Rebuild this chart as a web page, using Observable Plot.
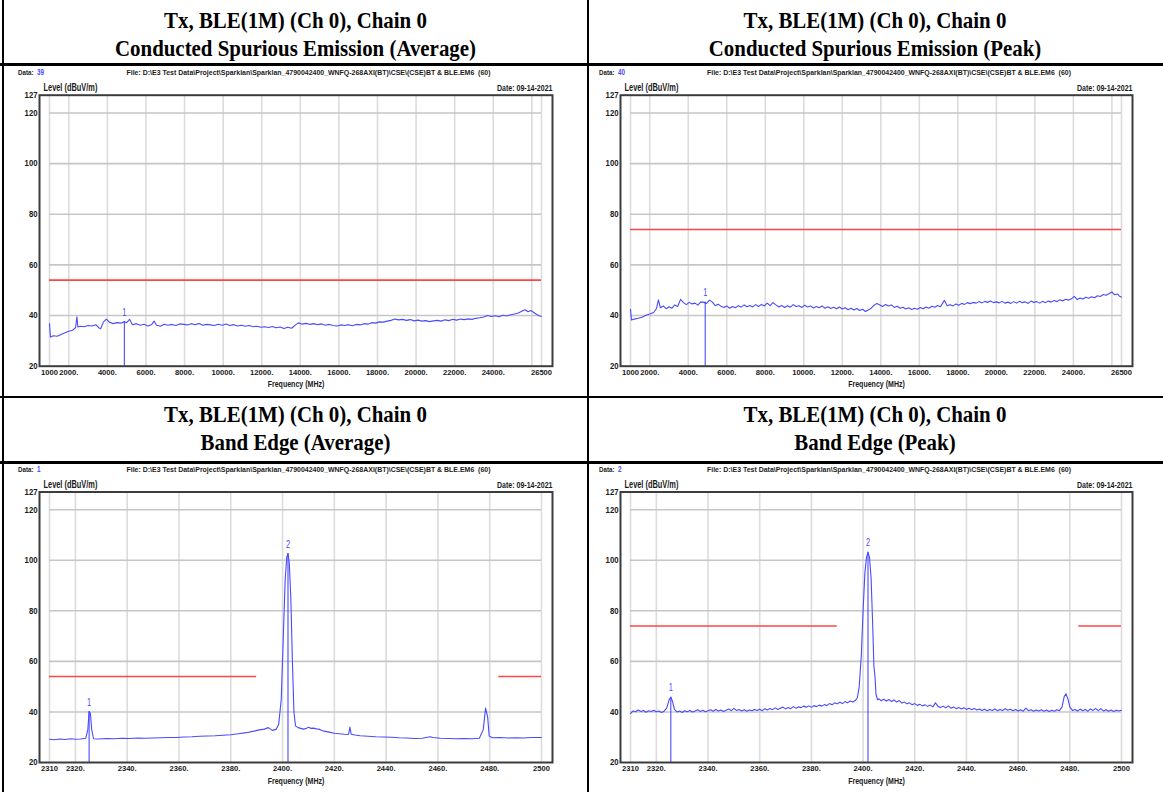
<!DOCTYPE html>
<html><head><meta charset="utf-8">
<script src="https://cdn.jsdelivr.net/npm/d3@7"></script>
<script src="https://cdn.jsdelivr.net/npm/@observablehq/plot@0.6"></script>
<style>
body{margin:0;background:#fff;}
#page{position:relative;width:1163px;height:792px;overflow:hidden;background:#fff;}
.title{position:absolute;font-family:"Liberation Serif","Times New Roman",serif;font-weight:bold;font-size:24px;line-height:28px;text-align:center;color:#000;}
.title div{white-space:nowrap;transform:scaleX(0.87);}
.cell{position:absolute;}
.cell svg{overflow:visible;}
.bl{position:absolute;background:#000;}
</style></head><body><div id="page"></div>
<script>
// ---------- text ----------
const titleLine1 = "Tx, BLE(1M) (Ch 0), Chain 0";
const titleLine2 = ["Conducted Spurious Emission (Average)", "Conducted Spurious Emission (Peak)", "Band Edge (Average)", "Band Edge (Peak)"];
const dataNumbers = ["39", "40", "1", "2"];
const fileText = "File: D:\\E3 Test Data\\Project\\Sparklan\\Sparklan_4790042400_WNFQ-268AXI(BT)\\CSE\\(CSE)BT & BLE.EM6  (60)";
const dateText = "Date: 09-14-2021";
const yLabel = "Level (dBuV/m)";
const xLabel = "Frequency (MHz)";

// ---------- axes ----------
const yTicks = [20, 40, 60, 80, 100, 120, 127];
const yGrid = [40, 60, 80, 100, 120];
const cseTicks = [1000, 2000, 4000, 6000, 8000, 10000, 12000, 14000, 16000, 18000, 20000, 22000, 24000, 26500];
const cseGrid = [1000, 2000, 4000, 6000, 8000, 10000, 12000, 14000, 16000, 18000, 20000, 22000, 24000, 26000, 26500];
const beTicks = [2310, 2320, 2340, 2360, 2380, 2400, 2420, 2440, 2460, 2480, 2500];
const cseRange = [1000, 26500];
const beRange = [2310, 2500];

// ---------- limit lines [from, to, level] ----------
const limitsCseAvg = [[1000, 26500, 54]];
const limitsCsePeak = [[1000, 26500, 74]];
const limitsBeAvg = [[2310, 2390, 54], [2483.5, 2500, 54]];
const limitsBePeak = [[2310, 2390, 74], [2483.5, 2500, 74]];

// ---------- markers [freq, level, label] ----------
const markersCseAvg = [[4880, 37.6, "1"]];
const markersCsePeak = [[4880, 45.3, "1"]];
const markersBeAvg = [[2325.3, 40.2, "1"], [2402.1, 102.7, "2"]];
const markersBePeak = [[2325.6, 45.8, "1"], [2401.9, 103.2, "2"]];

// ---------- traces [freq MHz, level dBuV/m] ----------
const traceCseAvg = [[1000,36.8],[1050,31.5],[1200,32],[1400,31.8],[1600,32.5],[1800,33.2],[2000,33.8],[2200,34.2],[2350,35.2],[2420,39.5],[2470,35.5],[2600,35.8],[2800,35.6],[3000,36.1],[3200,35.9],[3400,36.4],[3550,35.2],[3650,34.8],[3800,37.5],[3950,38.6],[4100,37.4],[4300,36.8],[4500,37.2],[4700,37],[4880,37.6],[5000,37.2],[5150,38.5],[5300,36.4],[5500,36.8],[5700,36.2],[5900,36.6],[6100,35.9],[6300,36.5],[6420,37.8],[6550,36.2],[6750,35.8],[6950,36.6],[7150,36.2],[7350,36.5],[7550,36.1],[7750,36.7],[7950,36.5],[8150,36.3],[8350,36.8],[8550,36.4],[8750,36.9],[8950,36.2],[9150,36.5],[9350,36.3],[9550,36.1],[9750,36.6],[9950,36.2],[10150,36.7],[10350,36.1],[10550,36.4],[10750,35.9],[10950,36.2],[11150,35.8],[11350,36.1],[11550,35.6],[11750,35.8],[11950,35.4],[12150,35.6],[12350,35.3],[12550,35.7],[12750,35.2],[12950,35.5],[13150,34.9],[13350,35.4],[13550,35],[13750,36.3],[13900,37.1],[14100,36.6],[14300,36.9],[14500,36.5],[14700,36.8],[14900,36.4],[15100,36.7],[15300,36.2],[15500,36.5],[15700,36.1],[15900,35.9],[16100,36.3],[16300,36.1],[16500,36.4],[16700,36],[16900,36.5],[17100,36.3],[17300,36.8],[17500,36.6],[17700,37.2],[17900,37],[18100,37.5],[18300,37.4],[18500,37.8],[18700,38.1],[18900,38.6],[19100,38.3],[19300,38.5],[19500,38.1],[19700,38.4],[19900,37.9],[20100,38.2],[20300,37.8],[20500,38],[20700,37.6],[20900,37.9],[21100,38.1],[21300,37.8],[21500,38.3],[21700,38],[21900,38.5],[22100,38.2],[22300,38.6],[22500,38.4],[22700,38.7],[22900,38.5],[23100,38.9],[23300,39.1],[23500,39.4],[23700,40],[23900,39.6],[24100,39.9],[24300,39.5],[24500,40.1],[24700,39.8],[24900,40.3],[25100,40.6],[25300,41],[25500,41.8],[25650,42.3],[25800,41.5],[25950,42],[26100,41.2],[26250,40.4],[26400,39.8],[26500,39.7]];

const traceCsePeak = [[1000,42.5],[1050,38.3],[1200,38.6],[1400,38.9],[1600,39.3],[1800,40.1],[2000,40.6],[2200,41.2],[2350,42.8],[2450,46.2],[2550,43.1],[2700,43.8],[2850,42.7],[3000,43.5],[3150,42.9],[3300,44.2],[3450,43.6],[3600,46.4],[3750,45.1],[3900,44.3],[4050,45.2],[4200,44.6],[4350,44.9],[4500,44.1],[4650,45.4],[4800,45.2],[4950,44.8],[5100,46.1],[5250,45.3],[5400,43.9],[5550,44.5],[5700,43.7],[5850,43.2],[6000,43.8],[6150,42.9],[6300,43.6],[6450,43.1],[6600,43.9],[6750,43.3],[6900,44.2],[7050,43.5],[7200,44],[7350,43.4],[7500,44.3],[7650,43.6],[7800,44.4],[7950,43.8],[8100,44.9],[8250,43.9],[8400,45.1],[8550,44.2],[8700,43.4],[8850,44],[9000,43.2],[9150,43.9],[9300,43.3],[9450,44.3],[9600,43.6],[9750,43.9],[9900,43.2],[10050,44.1],[10200,43.4],[10350,43.8],[10500,43],[10650,43.6],[10800,43.1],[10950,43.8],[11100,42.9],[11250,43.5],[11400,42.8],[11550,43.3],[11700,42.7],[11850,43.4],[12000,42.6],[12150,43.1],[12300,42.3],[12450,42.9],[12600,42.2],[12750,42.8],[12900,42],[13050,42.5],[13200,41.6],[13350,42.2],[13500,42.9],[13650,44.1],[13800,44.8],[13950,44.2],[14100,43.6],[14250,44.4],[14400,43.8],[14550,44.2],[14700,43.2],[14850,43.7],[15000,42.9],[15150,43.3],[15300,42.6],[15450,43.1],[15600,42.4],[15750,42.9],[15900,42.5],[16050,43.2],[16200,42.7],[16350,43.4],[16500,42.9],[16650,43.7],[16800,43.3],[16950,44],[17100,43.5],[17300,46],[17450,43.9],[17600,44.3],[17750,43.8],[17900,44.6],[18050,44.1],[18200,44.8],[18350,44.4],[18500,45.1],[18650,44.7],[18800,45.2],[18950,44.9],[19100,45.5],[19250,45],[19400,45.6],[19550,45.2],[19700,45.7],[19850,45.1],[20000,45.4],[20150,45],[20300,45.6],[20450,44.9],[20600,45.3],[20750,44.8],[20900,45.5],[21050,44.9],[21200,45.6],[21350,45.1],[21500,45.4],[21650,44.8],[21800,45.7],[21950,45.2],[22100,45.5],[22250,44.9],[22400,45.6],[22550,45.1],[22700,45.7],[22850,45.3],[23000,45.9],[23150,45.5],[23300,46.2],[23450,45.8],[23600,46.4],[23750,46.1],[23900,46.6],[24050,47.6],[24200,46.3],[24350,46.9],[24500,46.5],[24650,47.2],[24800,46.8],[24950,47.4],[25100,47],[25250,47.8],[25400,47.5],[25550,48.3],[25700,48],[25850,48.6],[26000,49.3],[26150,48.2],[26300,48.5],[26400,47.6],[26500,47.3]];

const traceBeAvg = [[2310,29.2],[2312,29],[2314,29.3],[2316,29.1],[2318,29.4],[2320,29.2],[2322,29.3],[2324,29.6],[2324.8,33],[2325.3,40.2],[2325.8,39.5],[2326.3,33],[2327,29.4],[2329,29.3],[2332,29.5],[2335,29.4],[2338,29.6],[2341,29.5],[2344,29.7],[2347,29.6],[2350,29.7],[2353,29.8],[2356,29.9],[2359,29.9],[2362,30.1],[2365,30.2],[2368,30.4],[2371,30.5],[2374,30.6],[2377,30.8],[2380,31],[2383,31.4],[2386,31.8],[2389,32.4],[2391,32.9],[2393,33.2],[2394.5,33.8],[2396,32.7],[2397.5,33.1],[2398.5,35],[2399.5,45],[2400.3,70],[2401,92],[2401.6,101],[2402.1,102.7],[2402.6,99],[2403.2,85],[2403.8,60],[2404.4,40],[2405,34.5],[2406,33.8],[2407,33.5],[2408,33.2],[2409,33.4],[2410,33.9],[2411,33.5],[2412,33.6],[2413,33.3],[2414,33.2],[2415,32.8],[2416,32.4],[2418,32],[2420,31.6],[2422,31.4],[2424,31.2],[2425.5,31.1],[2426,34],[2426.5,31.2],[2428,30.9],[2430,30.6],[2433,30.4],[2436,30.2],[2439,30.1],[2442,30],[2445,29.8],[2448,29.7],[2451,29.5],[2454,29.6],[2457,30.2],[2458,29.9],[2461,29.6],[2464,29.5],[2467,29.4],[2470,29.5],[2473,29.4],[2476,29.6],[2477.5,33],[2478.4,41.5],[2479.2,38],[2479.8,30.5],[2481,29.8],[2484,29.9],[2487,29.7],[2490,29.8],[2493,29.7],[2496,29.9],[2500,29.9]];

const traceBePeak = [[2310,39.3],[2311,40.4],[2312,40.1],[2313,40.8],[2314,40.2],[2315,40.6],[2316,39.9],[2317,40.5],[2318,40.2],[2319,40.7],[2320,40.1],[2321,40.4],[2322,39.8],[2323,40.3],[2324,41.5],[2325,45],[2325.6,45.8],[2326.3,44],[2327,41],[2328,40],[2329,40.4],[2330,39.8],[2331,40.5],[2332,40.1],[2333,40.6],[2334,40],[2335,40.4],[2336,40.9],[2337,40.2],[2338,40.7],[2339,40.1],[2340,40.5],[2341,40.9],[2342,40.3],[2343,41],[2344,40.4],[2345,40.8],[2346,40.2],[2347,40.7],[2348,41.2],[2349,40.5],[2350,41.4],[2351,40.6],[2352,41],[2353,40.4],[2354,40.9],[2355,40.3],[2356,40.8],[2357,40.5],[2358,41],[2359,40.6],[2360,41.1],[2361,40.5],[2362,41.3],[2363,40.8],[2364,41.4],[2365,40.9],[2366,41.6],[2367,41],[2368,41.5],[2369,41.9],[2370,41.2],[2371,41.8],[2372,41.3],[2373,42.1],[2374,41.5],[2375,42],[2376,41.7],[2377,42.3],[2378,41.9],[2379,42.4],[2380,41.8],[2381,42.5],[2382,42.1],[2383,42.7],[2384,42.3],[2385,42.9],[2386,42.5],[2387,43.3],[2388,42.8],[2389,43.6],[2390,43.2],[2391,43.8],[2392,43.3],[2393,44.1],[2394,43.6],[2395,44.3],[2396,43.9],[2397,44.5],[2397.8,45.6],[2398.5,50],[2399.3,62],[2400,80],[2400.7,95],[2401.3,101],[2401.9,103.2],[2402.5,101],[2403.1,93],[2403.7,75],[2404.2,58],[2404.6,54],[2405,47],[2405.6,44.8],[2406.2,45.2],[2407,44.4],[2408,45],[2409,44.3],[2410,44.9],[2411,44.1],[2412,44.7],[2413,43.9],[2414,44.5],[2415,43.5],[2416,43.9],[2417,43.2],[2418,43.6],[2419,42.8],[2420,43.3],[2421,42.6],[2422,43],[2423,42.4],[2424,42.8],[2425,42.2],[2426,42.7],[2427,42],[2428,43.6],[2429,42.2],[2430,41.8],[2431,42.3],[2432,41.6],[2433,42.4],[2434,41.5],[2435,42],[2436,41.3],[2437,41.8],[2438,41.2],[2439,41.7],[2440,41],[2441,41.5],[2442,40.9],[2443,41.4],[2444,40.8],[2445,41.2],[2446,40.6],[2447,41.1],[2448,40.5],[2449,41],[2450,40.6],[2451,41.2],[2452,40.5],[2453,41],[2454,40.6],[2455,41.3],[2456,40.7],[2457,41.1],[2458,40.5],[2459,41],[2460,40.4],[2461,40.9],[2462,40.3],[2463,41.5],[2464,40.5],[2465,40.9],[2466,40.3],[2467,40.8],[2468,40.4],[2469,40.9],[2470,40.3],[2471,40.8],[2472,40.2],[2473,40.7],[2474,40.3],[2475,40.9],[2476,40.5],[2477,42],[2477.8,46],[2478.5,47.2],[2479.3,45],[2480,42],[2481,40.6],[2482,41],[2483,40.4],[2484,41.1],[2485,40.5],[2486,41],[2487,40.3],[2488,41.2],[2489,40.6],[2490,41.4],[2491,40.5],[2492,41.3],[2493,40.4],[2494,40.9],[2495,40.3],[2496,40.8],[2497,40.2],[2498,40.7],[2499,40.4],[2500,40.7]];

// ---------- drawing ----------
const FONT = '"Liberation Sans",Arial,sans-serif';
const BLUE = "#4a4aff";
const RED = "#ff4545";
const page = document.getElementById("page");

function chart(cfg) {
  const [x0, x1] = cfg.range;
  return Plot.plot({
    width: cfg.w, height: cfg.h,
    marginLeft: cfg.mL, marginRight: cfg.mR, marginTop: cfg.mT, marginBottom: cfg.mB,
    style: {fontFamily: FONT, fontWeight: "bold", fontSize: "10px", color: "#1a1a1a", background: "transparent", overflow: "visible"},
    x: {domain: cfg.range, insetLeft: 10, insetRight: 11},
    y: {domain: [20, 127]},
    marks: [
      Plot.ruleX(cfg.grid, {x: d => d, y1: 20, y2: 127, stroke: "#dcdcdc", strokeWidth: 1.6}),
      Plot.ruleY(yGrid, {y: d => d, x1: x0, x2: x1, stroke: "#c6c6c6", strokeWidth: 1.6}),
      Plot.ruleY(cfg.limits, {y: d => d[2], x1: d => d[0], x2: d => d[1], stroke: RED, strokeWidth: 1.6}),
      Plot.ruleX(cfg.markers, {x: d => d[0], y1: 20, y2: d => d[1], stroke: BLUE, strokeWidth: 1.1}),
      Plot.line(cfg.trace, {x: d => d[0], y: d => d[1], stroke: BLUE, strokeWidth: 1.1}),
      Plot.text(cfg.markers, {x: d => d[0], y: d => d[1], text: d => d[2], dy: -9, fill: BLUE, fontSize: 10, fontWeight: "normal"}),
      Plot.frame({stroke: "#3c3c3c", strokeWidth: 2}),
      Plot.axisY({ticks: yTicks, tickSize: 0, tickPadding: 2, label: null, fontSize: 9}),
      Plot.axisX({ticks: cfg.ticks, tickFormat: cfg.fmt, tickSize: 0, tickPadding: 3, label: null, fontSize: 8}),
      Plot.text([yLabel], {text: d => d, frameAnchor: "top-left", dx: 4, dy: -4, lineAnchor: "bottom", textAnchor: "start", fontSize: 10}),
      Plot.text([dateText], {text: d => d, frameAnchor: "top-right", dy: -4, lineAnchor: "bottom", textAnchor: "end", fontSize: 9.5}),
      Plot.text([xLabel], {text: d => d, frameAnchor: "bottom", dy: 18, lineAnchor: "middle", fontSize: 9.5}),
      Plot.text(["Data:"], {text: d => d, frameAnchor: "top-left", dx: -21.5, dy: -20, lineAnchor: "bottom", textAnchor: "start", fontSize: 7.5}),
      Plot.text([cfg.dataNo], {text: d => d, frameAnchor: "top-left", dx: -2.5, dy: -20, lineAnchor: "bottom", textAnchor: "start", fontSize: 8.5, fill: BLUE}),
      Plot.text([fileText], {text: d => d, frameAnchor: "top", dx: 12.5, dy: -20, lineAnchor: "bottom", fontSize: 8})
    ]
  });
}

// narrow (Arial-Narrow-like) rendering of the chart texts
const widthTarget = {"Data:": 15.5};
widthTarget[fileText] = 364;
function condense(svg) {
  svg.querySelectorAll("text").forEach(t => {
    const len = t.getComputedTextLength();
    if (!len) return;
    let factor = 0.74;
    if (t.closest('[aria-label="x-axis tick label"]')) factor = 0.95;
    else if (t.closest('[aria-label="y-axis tick label"]')) factor = 0.86;
    const target = widthTarget[t.textContent] || len * factor;
    t.setAttribute("textLength", target.toFixed(2));
    t.setAttribute("lengthAdjust", "spacingAndGlyphs");
  });
}

const cseFmt = d => (d === 1000 || d === 26500) ? String(d) : d + ".";
const beFmt = d => (d === 2310 || d === 2500) ? String(d) : d + ".";

const cells = [
  {left: 3, top: 64, w: 585, h: 332, mL: 36, mR: 36, mT: 30.7, mB: 30.3, range: cseRange, grid: cseGrid, ticks: cseTicks, fmt: cseFmt, limits: limitsCseAvg, markers: markersCseAvg, trace: traceCseAvg, dataNo: dataNumbers[0]},
  {left: 588, top: 64, w: 574, h: 332, mL: 32, mR: 30, mT: 30.7, mB: 30.3, range: cseRange, grid: cseGrid, ticks: cseTicks, fmt: cseFmt, limits: limitsCsePeak, markers: markersCsePeak, trace: traceCsePeak, dataNo: dataNumbers[1]},
  {left: 3, top: 462, w: 585, h: 330, mL: 36, mR: 36, mT: 29.5, mB: 30, range: beRange, grid: beTicks, ticks: beTicks, fmt: beFmt, limits: limitsBeAvg, markers: markersBeAvg, trace: traceBeAvg, dataNo: dataNumbers[2]},
  {left: 588, top: 462, w: 574, h: 330, mL: 32, mR: 30, mT: 29.5, mB: 30, range: beRange, grid: beTicks, ticks: beTicks, fmt: beFmt, limits: limitsBePeak, markers: markersBePeak, trace: traceBePeak, dataNo: dataNumbers[3]}
];

cells.forEach((c, i) => {
  const div = document.createElement("div");
  div.className = "cell";
  div.style.left = c.left + "px";
  div.style.top = c.top + "px";
  const svg = chart(c);
  div.appendChild(svg);
  page.appendChild(div);
  condense(svg);
  // titles
  const t = document.createElement("div");
  t.className = "title";
  const colLeft = i % 2 === 0 ? 3 : 588;
  const colW = i % 2 === 0 ? 585 : 574;
  t.style.left = colLeft + "px";
  t.style.width = colW + "px";
  t.style.top = (i < 2 ? 6 : 400) + "px";
  const l1 = document.createElement("div"); l1.textContent = titleLine1;
  const l2 = document.createElement("div"); l2.textContent = titleLine2[i];
  t.appendChild(l1); t.appendChild(l2);
  page.appendChild(t);
});

// table borders
[[2, 0, 2, 792], [587, 0, 1.5, 792], [0, 63, 1163, 2.5], [0, 396, 1163, 1.5], [0, 461, 1163, 2.5]].forEach(([x, y, w, h]) => {
  const b = document.createElement("div");
  b.className = "bl";
  Object.assign(b.style, {left: x + "px", top: y + "px", width: w + "px", height: h + "px"});
  page.appendChild(b);
});
</script></body></html>
